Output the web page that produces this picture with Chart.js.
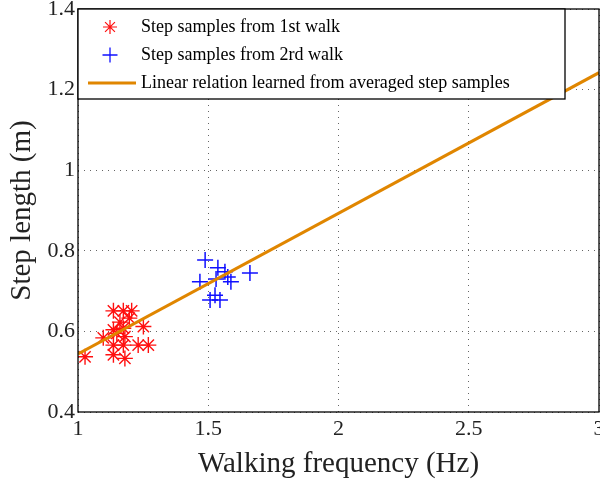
<!DOCTYPE html>
<html>
<head>
<meta charset="utf-8">
<script src="https://cdn.jsdelivr.net/npm/chart.js@4/dist/chart.umd.min.js"></script>
<style>
  html, body { margin: 0; padding: 0; background: #fff; overflow: hidden; }
  #wrap { width: 600px; height: 482px; }
</style>
</head>
<body>
<div id="wrap"><canvas id="step-chart" width="600" height="482"></canvas></div>
<script>
// step samples, 1st walk (frequency in Hz, length in m)
const walk1Freq = [1.136, 1.174, 1.206, 1.197, 1.251, 1.097, 1.136, 1.174, 1.149, 1.180, 1.136, 1.174, 1.231, 1.270, 1.136, 1.180, 1.027, 1.161];
const walk1Len  = [0.651, 0.651, 0.651, 0.633, 0.612, 0.584, 0.604, 0.608, 0.595, 0.587, 0.566, 0.566, 0.566, 0.566, 0.542, 0.533, 0.537, 0.623];
// step samples, 2nd walk
const walk2Freq = [1.488, 1.537, 1.564, 1.660, 1.468, 1.530, 1.587, 1.507, 1.545, 1.526, 1.575];
const walk2Len  = [0.777, 0.758, 0.748, 0.745, 0.723, 0.730, 0.723, 0.678, 0.678, 0.690, 0.735];
// learned linear relation, end points
const fitFreq = [1, 3];
const fitLen  = [0.544, 1.242];

const xTicks = [1, 1.5, 2, 2.5, 3];
const yTicks = [0.4, 0.6, 0.8, 1, 1.2, 1.4];

const legendLabels = [
  'Step samples from 1st walk',
  'Step samples from 2rd walk',
  'Linear relation learned from averaged step samples'
];

const serif = '"Liberation Serif", "Times New Roman", serif';
const red = '#ff1010';
const blue = '#1010ff';
const orange = '#e08600';

const toPoints = (xs, ys) => xs.map((x, i) => ({ x: x, y: ys[i] }));
const fmt = v => String(+v.toFixed(1));

// box frame + legend drawn on top of the plot
const framePlugin = {
  id: 'frame',
  afterDraw(chart) {
    const ctx = chart.ctx;
    const a = chart.chartArea;
    ctx.save();
    ctx.strokeStyle = '#000';
    ctx.lineWidth = 1.3;
    ctx.setLineDash([]);
    ctx.strokeRect(a.left, a.top, a.right - a.left, a.bottom - a.top);

    // legend box
    const lx = a.left, ly = a.top, lw = 487, lh = 90;
    ctx.fillStyle = '#fff';
    ctx.fillRect(lx, ly, lw, lh);
    ctx.strokeRect(lx, ly, lw, lh);

    const rows = [ly + 18, ly + 46, ly + 74];
    const mx = lx + 32;

    // star marker
    ctx.strokeStyle = red;
    ctx.lineWidth = 1.2;
    let r = 7;
    ctx.beginPath();
    for (let k = 0; k < 4; k++) {
      const t = k * Math.PI / 4;
      ctx.moveTo(mx - r * Math.cos(t), rows[0] - r * Math.sin(t));
      ctx.lineTo(mx + r * Math.cos(t), rows[0] + r * Math.sin(t));
    }
    ctx.stroke();

    // plus marker
    ctx.strokeStyle = blue;
    ctx.lineWidth = 1.3;
    r = 7.5;
    ctx.beginPath();
    ctx.moveTo(mx - r, rows[1]); ctx.lineTo(mx + r, rows[1]);
    ctx.moveTo(mx, rows[1] - r); ctx.lineTo(mx, rows[1] + r);
    ctx.stroke();

    // line sample
    ctx.strokeStyle = orange;
    ctx.lineWidth = 3;
    ctx.beginPath();
    ctx.moveTo(lx + 10, rows[2]); ctx.lineTo(lx + 58, rows[2]);
    ctx.stroke();

    ctx.fillStyle = '#000';
    ctx.font = '18px ' + serif;
    ctx.textBaseline = 'middle';
    ctx.textAlign = 'left';
    legendLabels.forEach((t, i) => ctx.fillText(t, lx + 63, rows[i]));
    ctx.restore();
  }
};

new Chart(document.getElementById('step-chart'), {
  type: 'scatter',
  data: {
    datasets: [
      {
        label: legendLabels[2],
        data: toPoints(fitFreq, fitLen),
        showLine: true,
        borderColor: orange,
        borderWidth: 3,
        pointRadius: 0,
        order: 0
      },
      {
        label: legendLabels[0],
        data: toPoints(walk1Freq, walk1Len),
        pointStyle: 'star',
        pointRadius: 8,
        borderColor: red,
        backgroundColor: red,
        pointBorderWidth: 1.4,
        order: 1
      },
      {
        label: legendLabels[1],
        data: toPoints(walk2Freq, walk2Len),
        pointStyle: 'cross',
        pointRadius: 8,
        borderColor: blue,
        backgroundColor: blue,
        pointBorderWidth: 1.5,
        order: 2
      }
    ]
  },
  options: {
    responsive: false,
    animation: false,
    layout: { autoPadding: false, padding: { top: 9, right: 1, left: 0, bottom: 0 } },
    plugins: {
      legend: { display: false },
      tooltip: { enabled: false }
    },
    scales: {
      x: {
        type: 'linear',
        min: xTicks[0],
        max: xTicks[xTicks.length - 1],
        afterBuildTicks: s => { s.ticks = xTicks.map(v => ({ value: v })); },
        afterFit: s => { s.height = 70; s.paddingLeft = 0; s.paddingRight = 0; },
        grid: { color: '#666', lineWidth: 1, drawTicks: false, borderDash: [1, 5] },
        border: { display: false, dash: [1, 5] },
        ticks: {
          padding: 4,
          color: '#222',
          maxRotation: 0,
          font: { family: serif, size: 22 },
          callback: fmt
        },
        title: {
          display: true,
          text: 'Walking frequency (Hz)',
          color: '#222',
          font: { family: serif, size: 29 },
          padding: { top: 0, bottom: 0 }
        }
      },
      y: {
        type: 'linear',
        min: yTicks[0],
        max: yTicks[yTicks.length - 1],
        afterBuildTicks: s => { s.ticks = yTicks.map(v => ({ value: v })); },
        afterFit: s => { s.width = 78; s.paddingTop = 0; s.paddingBottom = 0; },
        grid: { color: '#666', lineWidth: 1, drawTicks: false, borderDash: [1, 5] },
        border: { display: false, dash: [1, 5] },
        ticks: {
          padding: 3,
          color: '#222',
          font: { family: serif, size: 22 },
          callback: fmt
        },
        title: {
          display: true,
          text: 'Step length (m)',
          color: '#222',
          font: { family: serif, size: 29 },
          padding: { top: 5, bottom: 0 }
        }
      }
    }
  },
  plugins: [framePlugin]
});
</script>
</body>
</html>
